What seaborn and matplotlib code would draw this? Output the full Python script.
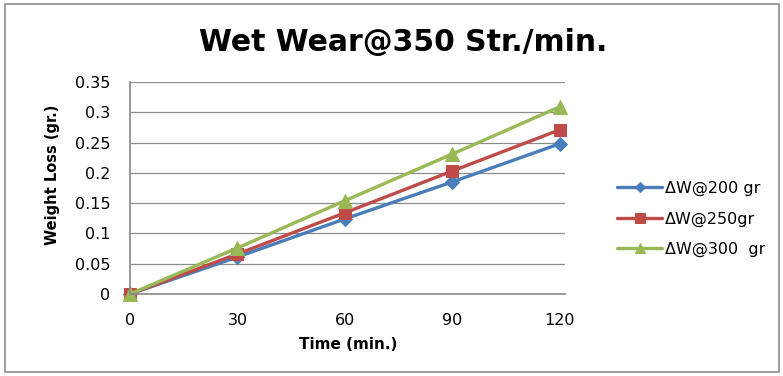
import numpy as np
import pandas as pd
import matplotlib
matplotlib.use("Agg")
import matplotlib.pyplot as plt
import seaborn as sns
from matplotlib.patches import Rectangle

time_min = [0, 30, 60, 90, 120]
w200 = [0.0, 0.061, 0.124, 0.185, 0.248]
w250 = [0.0, 0.066, 0.134, 0.203, 0.271]
w300 = [0.0, 0.076, 0.154, 0.231, 0.309]
series_names = ["ΔW@200 gr", "ΔW@250gr", "ΔW@300  gr"]
colors = ["#4A7EBB", "#BE4B48", "#98B954"]
markers = ["D", "s", "^"]
msizes = [7, 9, 10]

sns.set_theme(style="white")
plt.rcParams["font.family"] = ["DejaVu Sans"]
plt.rcParams["text.color"] = "black"
plt.rcParams["axes.labelcolor"] = "black"

fig = plt.figure(figsize=(7.83, 3.76), dpi=100)
ax = fig.add_axes([130 / 783, 1 - 294 / 376, 435 / 783, 212 / 376])

df = pd.DataFrame({"time": time_min * 3,
                   "loss": w200 + w250 + w300,
                   "series": np.repeat(series_names, len(time_min))})

for name, c, m, ms in zip(series_names, colors, markers, msizes):
    sub = df[df["series"] == name]
    sns.lineplot(data=sub, x="time", y="loss", ax=ax, color=c, lw=2.4,
                 marker=m, markersize=ms, markeredgecolor=c, label=name)

ax.set_xlim(0, 121.5)
ax.set_ylim(0, 0.35)
ax.set_xticks(time_min)
ax.set_yticks(np.arange(0, 0.351, 0.05))
ax.set_yticklabels(["0", "0.05", "0.1", "0.15", "0.2", "0.25", "0.3", "0.35"])
ax.yaxis.grid(True, color="#8c8c8c", lw=0.9)
ax.xaxis.grid(False)
for s in ["top", "right"]:
    ax.spines[s].set_visible(False)
ax.spines["left"].set_color("#8c8c8c")
ax.spines["bottom"].set_color("#8c8c8c")
ax.tick_params(axis="both", labelsize=11.5, colors="black", pad=8)
for ln in ax.lines:
    ln.set_clip_on(False)

ax.set_xlabel("Time (min.)", fontsize=11, fontweight="bold")
ax.xaxis.set_label_coords(348 / 783, 1 - 337 / 376, transform=fig.transFigure)
ax.set_ylabel("Weight Loss (gr.)", fontsize=10.5, fontweight="bold")
ax.yaxis.set_label_coords(60 / 783, 1 - 175 / 376, transform=fig.transFigure)

fig.text(403 / 783, 1 - 42 / 376, "Wet Wear@350 Str./min.", ha="center",
         va="center", fontsize=21.5, fontweight="bold", color="black")

leg = ax.legend(loc="center left", bbox_to_anchor=(603 / 783, 1 - 219 / 376),
                bbox_transform=fig.transFigure, frameon=False, fontsize=11.5,
                handlelength=2.8, labelspacing=0.95, handletextpad=0.2,
                markerscale=0.75)

fig.patches.append(Rectangle((5 / 783, 4 / 376), 774 / 783, 368 / 376,
                             transform=fig.transFigure, fill=False,
                             edgecolor="#8c8c8c", lw=1.2))

fig.savefig("out.png", dpi=100)
